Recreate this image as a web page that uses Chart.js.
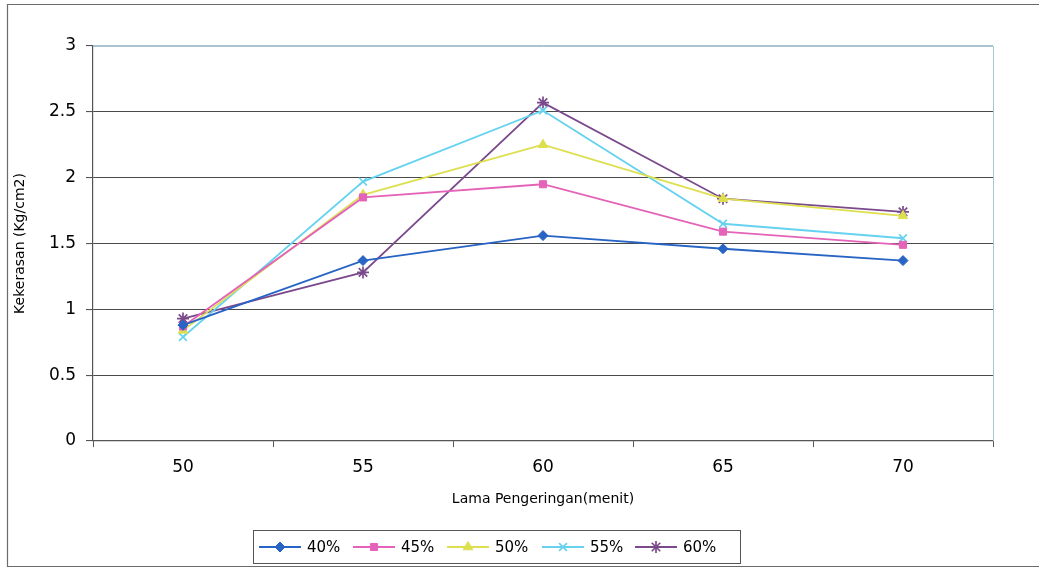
<!DOCTYPE html>
<html>
<head>
<meta charset="utf-8">
<script src="https://cdn.jsdelivr.net/npm/chart.js@4.4.1/dist/chart.umd.min.js"></script>
<style>
  html, body { margin: 0; padding: 0; background: #fff; }
  #wrap { position: relative; width: 1039px; height: 569px; }
</style>
</head>
<body>
<div id="wrap"><canvas id="c" width="1039" height="569"></canvas></div>
<script>
// Drying time (minutes) on the x axis
const dryingTimes = ['50', '55', '60', '65', '70'];

// Hardness (Kg/cm2) for each concentration
const s40 = [0.88, 1.37, 1.56, 1.46, 1.37];
const s45 = [0.87, 1.85, 1.95, 1.59, 1.49];
const s50 = [0.84, 1.87, 2.25, 1.84, 1.71];
const s55 = [0.79, 1.97, 2.51, 1.65, 1.54];
const s60 = [0.93, 1.28, 2.57, 1.84, 1.74];

const seriesNames = ['40%', '45%', '50%', '55%', '60%'];
const seriesColors = ['#2764c4', '#e463b8', '#dddf4e', '#66d2f0', '#7b4a8c'];
const seriesMarkers = ['rectRot', 'rect', 'triangle', 'crossRot', 'star'];
const seriesRadius = [5, 5, 5.5, 5.5, 6];

const yTicks = [0, 0.5, 1, 1.5, 2, 2.5, 3];

const FONT = '"DejaVu Sans", "Liberation Sans", Arial, sans-serif';

function makeSet(i, data) {
  return {
    label: seriesNames[i],
    data: data,
    borderColor: seriesColors[i],
    backgroundColor: seriesColors[i],
    borderWidth: 1.8,
    pointStyle: seriesMarkers[i],
    pointRadius: seriesRadius[i],
    pointBorderWidth: seriesMarkers[i] === 'crossRot' || seriesMarkers[i] === 'star' ? 1.7 : 1,
    tension: 0
  };
}

// Outer frame, plot border and the boxed legend
const decorations = {
  id: 'decorations',
  beforeDraw(chart) {
    const ctx = chart.ctx;
    ctx.save();
    ctx.fillStyle = '#fff';
    ctx.fillRect(0, 0, chart.width, chart.height);
    ctx.restore();
  },
  afterDraw(chart) {
    const ctx = chart.ctx;
    const a = chart.chartArea;
    ctx.save();
    // outer frame
    ctx.strokeStyle = '#6b6b6b';
    ctx.lineWidth = 1.2;
    ctx.beginPath();
    ctx.moveTo(1045, 4.5);
    ctx.lineTo(7.5, 4.5);
    ctx.lineTo(7.5, 566.5);
    ctx.lineTo(1045, 566.5);
    ctx.stroke();
    // top/right border of plot area
    ctx.strokeStyle = '#a8c6d0';
    ctx.lineWidth = 1;
    ctx.beginPath();
    ctx.moveTo(a.left, a.top + 0.5);
    ctx.lineTo(a.right + 0.5, a.top + 0.5);
    ctx.lineTo(a.right + 0.5, a.bottom);
    ctx.stroke();

    // legend
    const bx = 253, by = 530, bw = 487, bh = 33;
    ctx.strokeStyle = '#555';
    ctx.lineWidth = 1;
    ctx.strokeRect(bx + 0.5, by + 0.5, bw, bh);
    const itemX = [259, 353, 447, 542, 635];
    const cy = by + bh / 2 + 0.5;
    ctx.font = '15px ' + FONT;
    ctx.textBaseline = 'middle';
    chart.data.datasets.forEach((ds, i) => {
      const x0 = itemX[i];
      ctx.strokeStyle = ds.borderColor;
      ctx.lineWidth = 1.8;
      ctx.beginPath();
      ctx.moveTo(x0, cy);
      ctx.lineTo(x0 + 42, cy);
      ctx.stroke();
      ctx.fillStyle = ds.borderColor;
      ctx.strokeStyle = ds.borderColor;
      ctx.lineWidth = ds.pointBorderWidth;
      Chart.helpers.drawPoint(ctx, {
        pointStyle: ds.pointStyle,
        radius: ds.pointRadius,
        borderWidth: ds.pointBorderWidth,
        rotation: 0
      }, x0 + 21, cy);
      ctx.fillStyle = '#000';
      ctx.textAlign = 'left';
      ctx.fillText(ds.label, x0 + 48, cy + 1);
    });
    ctx.restore();
  }
};

new Chart(document.getElementById('c'), {
  type: 'line',
  data: {
    labels: dryingTimes,
    datasets: [
      makeSet(0, s40),
      makeSet(1, s45),
      makeSet(2, s50),
      makeSet(3, s55),
      makeSet(4, s60)
    ]
  },
  options: {
    responsive: false,
    animation: false,
    devicePixelRatio: 1,
    layout: { padding: { left: 0, top: 46, right: 46, bottom: 61 } },
    plugins: {
      legend: { display: false },
      tooltip: { enabled: false }
    },
    scales: {
      x: {
        type: 'category',
        offset: true,
        grid: {
          offset: true,
          drawOnChartArea: false,
          drawTicks: true,
          tickLength: 6,
          color: '#555'
        },
        border: { color: '#555', width: 1.2 },
        ticks: {
          color: '#000',
          font: { family: FONT, size: 17 },
          padding: 10,
          maxRotation: 0
        },
        title: {
          display: true,
          text: 'Lama Pengeringan(menit)',
          color: '#000',
          font: { family: FONT, size: 14 },
          padding: { top: 4, bottom: 0 }
        },
        afterFit(scale) { scale.height = 67; }
      },
      y: {
        min: 0,
        max: 3,
        afterBuildTicks(scale) { scale.ticks = yTicks.map(v => ({ value: v })); },
        grid: {
          color: ctx => (ctx.tick && ctx.tick.value === 3) ? '#a8c6d0' : '#4a4a4a',
          lineWidth: 1.1,
          drawTicks: true,
          tickLength: 7,
          tickColor: '#555'
        },
        border: { color: '#555', width: 1.2 },
        ticks: {
          color: '#000',
          font: { family: FONT, size: 17 },
          padding: 10,
          callback: v => String(v)
        },
        title: {
          display: true,
          text: 'Kekerasan (Kg/cm2)',
          color: '#000',
          font: { family: FONT, size: 14 },
          padding: { top: 12 }
        },
        afterFit(scale) { scale.width = 93; }
      }
    }
  },
  plugins: [decorations]
});
</script>
</body>
</html>
